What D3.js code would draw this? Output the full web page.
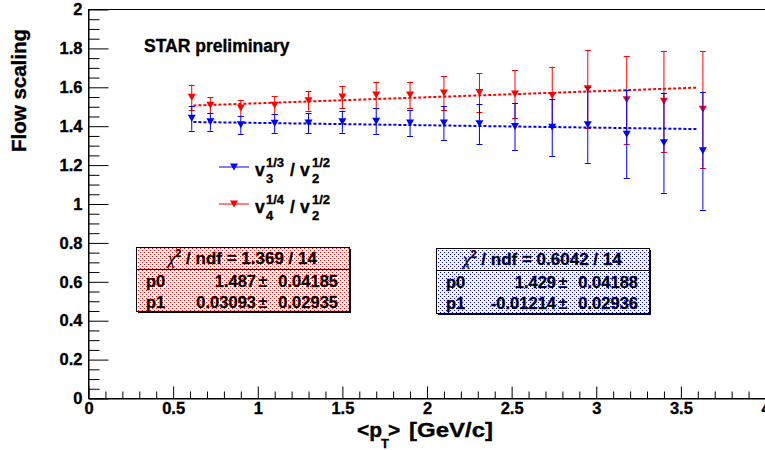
<!DOCTYPE html>
<html><head><meta charset="utf-8">
<script src="https://cdn.jsdelivr.net/npm/d3@7"></script>
<style>
body{margin:0;background:#fff}
svg{display:block}
text{font-family:"Liberation Sans",Arial,Helvetica,sans-serif;font-weight:bold;fill:#000}
.hv{stroke:#000;stroke-width:0.35px}
</style>
</head><body>
<svg id="c" width="765" height="450"></svg>
<script>
// ---- data ----
const pt    = [0.61,0.72,0.90,1.10,1.30,1.50,1.70,1.90,2.10,2.31,2.52,2.74,2.95,3.18,3.40,3.63];
const v3    = [1.441,1.423,1.407,1.415,1.417,1.423,1.426,1.417,1.417,1.412,1.399,1.394,1.407,1.359,1.315,1.274];
const v3err = [0.064,0.046,0.046,0.049,0.051,0.057,0.067,0.067,0.087,0.103,0.121,0.147,0.195,0.225,0.257,0.303];
const v4    = [1.549,1.508,1.493,1.508,1.531,1.550,1.560,1.560,1.571,1.573,1.566,1.558,1.592,1.536,1.528,1.487];
const v4err = [0.064,0.041,0.043,0.046,0.051,0.058,0.068,0.068,0.088,0.101,0.124,0.148,0.200,0.226,0.260,0.300];
const fitV3 = [1.429,-0.01214];
const fitV4 = [1.487, 0.03093];
const fitRange = [0.62, 3.60];
const xTicks = [0,0.5,1,1.5,2,2.5,3,3.5,4];
const yTicks = [0,0.2,0.4,0.6,0.8,1,1.2,1.4,1.6,1.8,2];
const statsV4 = ["1.369 / 14","1.487","0.04185","0.03093","0.02935"];
const statsV3 = ["0.6042 / 14","1.429","0.04188","-0.01214","0.02936"];

// ---- layout ----
const svg = d3.select("#c");
const x = d3.scaleLinear().domain([0,4]).range([88.5,765.5]);
const y = d3.scaleLinear().domain([0,2]).range([398.5,9.5]);
const fmt = d => String(+d.toFixed(2));
const FONT = '"Liberation Sans",Arial,Helvetica,sans-serif';
const RED = "#ff0000", BLUE = "#0000ff";

const defs = svg.append("defs");
function pat(id, col){
  const p = defs.append("pattern").attr("id",id).attr("patternUnits","userSpaceOnUse")
    .attr("width",4).attr("height",4);
  p.append("rect").attr("width",4).attr("height",4).attr("fill","#fff");
  p.append("rect").attr("x",0).attr("y",0).attr("width",1).attr("height",1).attr("fill",col);
  p.append("rect").attr("x",2).attr("y",2).attr("width",1).attr("height",1).attr("fill",col);
}
pat("pr",RED); pat("pb",BLUE);

// frame
svg.append("rect").attr("x",x(0)).attr("y",y(2)).attr("width",x(4)-x(0)).attr("height",y(0)-y(2))
  .attr("fill","none").attr("stroke","#000").attr("stroke-width",1);

// minor ticks
const yMinor = d3.range(0,2.0001,0.05).filter(v=>Math.abs(v/0.2-Math.round(v/0.2))>1e-6);
const xMinor = d3.range(0,4.0001,0.1).filter(v=>Math.abs(v/0.5-Math.round(v/0.5))>1e-6);

function styleAxis(g, size){
  g.attr("font-family",FONT).attr("font-size",size).attr("font-weight","bold");
  g.select(".domain").attr("stroke","#000");
  g.selectAll("line").attr("stroke","#000");
  g.selectAll("text").attr("fill","#000").attr("class","hv");
}
const gy = svg.append("g").attr("transform",`translate(${x(0)},0)`);
gy.call(d3.axisLeft(y).tickValues(yTicks).tickSize(-20).tickSizeOuter(0).tickPadding(6).tickFormat(fmt));
styleAxis(gy,16.5);
const gym = svg.append("g").attr("transform",`translate(${x(0)},0)`);
gym.call(d3.axisLeft(y).tickValues(yMinor).tickSize(-11).tickSizeOuter(0).tickFormat(""));
gym.select(".domain").remove(); gym.selectAll("line").attr("stroke","#000");

const gx = svg.append("g").attr("transform",`translate(0,${y(0)})`);
gx.call(d3.axisBottom(x).tickValues(xTicks).tickSize(-12).tickSizeOuter(0).tickPadding(4).tickFormat(fmt));
styleAxis(gx,16.5);
const gxm = svg.append("g").attr("transform",`translate(0,${y(0)})`);
gxm.call(d3.axisBottom(x).tickValues(xMinor).tickSize(-7).tickSizeOuter(0).tickFormat(""));
gxm.select(".domain").remove(); gxm.selectAll("line").attr("stroke","#000");

// axis titles
svg.append("text").attr("class","hv").attr("transform","translate(26,152) rotate(-90)").attr("font-size",20.5)
  .attr("text-anchor","start").text("Flow scaling");
const xt = svg.append("text").attr("class","hv").attr("x",357).attr("y",437).attr("font-size",21);
xt.append("tspan").text("<p");
xt.append("tspan").attr("font-size",13).attr("dy",10.5).attr("dx",-1).text("T");
xt.append("tspan").attr("dy",-10.5).attr("dx",-1).text(">");
svg.append("text").attr("class","hv").attr("x",409).attr("y",437).attr("font-size",21)
  .attr("textLength",84).attr("lengthAdjust","spacingAndGlyphs").text("[GeV/c]");

// STAR preliminary
svg.append("text").attr("class","hv").attr("x",144).attr("y",51.5).attr("font-size",17.5).text("STAR preliminary");

// ---- series ----
const tri = (cx,cy) => `M${cx-4},${cy-3.5}L${cx+4},${cy-3.5}L${cx},${cy+3.5}Z`;
function series(vals, errs, fit, col){
  const g = svg.append("g");
  const d = pt.map((p,i)=>({p, v:vals[i], e:errs[i]}));
  const fl = d3.line().x(t=>x(t)).y(t=>y(fit[0]+fit[1]*t));
  g.append("path").attr("d",fl(fitRange)).attr("fill","none").attr("stroke",col)
    .attr("stroke-width",2).attr("stroke-dasharray","3,2");
  g.selectAll(".eb").data(d).join("line").attr("x1",a=>x(a.p)).attr("x2",a=>x(a.p))
    .attr("y1",a=>y(a.v+a.e)).attr("y2",a=>y(a.v-a.e)).attr("stroke",col).attr("stroke-width",1);
  g.selectAll(".ct").data(d).join("line").attr("x1",a=>x(a.p)-3).attr("x2",a=>x(a.p)+3)
    .attr("y1",a=>Math.round(y(a.v+a.e))+0.5).attr("y2",a=>Math.round(y(a.v+a.e))+0.5).attr("stroke",col);
  g.selectAll(".cb").data(d).join("line").attr("x1",a=>x(a.p)-3).attr("x2",a=>x(a.p)+3)
    .attr("y1",a=>Math.round(y(a.v-a.e))+0.5).attr("y2",a=>Math.round(y(a.v-a.e))+0.5).attr("stroke",col);
  g.selectAll(".mk").data(d).join("path").attr("d",a=>tri(x(a.p),y(a.v))).attr("fill",col);
}
series(v4, v4err, fitV4, RED);
series(v3, v3err, fitV3, BLUE);

// ---- legend ----
function legendRow(ly, col, n){
  svg.append("line").attr("x1",219).attr("x2",249).attr("y1",ly).attr("y2",ly).attr("stroke",col);
  svg.append("path").attr("d",tri(234,ly)).attr("fill",col);
  const base = ly+8.5;
  const T = (xx,yy,fs,s)=>svg.append("text").attr("class","hv").attr("x",xx).attr("y",yy).attr("font-size",fs).text(s);
  T(255,base,17.5,"v");
  T(266,ly-0.5,13,"1/"+n);
  T(266,ly+15.5,13,n);
  T(290,base,17.5,"/");
  T(300,base,17.5,"v");
  T(312,ly-0.5,13,"1/2");
  T(312,ly+15.5,13,"2");
}
legendRow(167, BLUE, "3");
legendRow(204, RED, "4");

// ---- stats boxes ----
function statsBox(b, s, patId){
  const g = svg.append("g");
  const w = b.x1-b.x0, h = b.y1-b.y0;
  g.append("rect").attr("x",b.x0+2).attr("y",b.y0+2).attr("width",w).attr("height",h).attr("fill","#000");
  g.append("rect").attr("x",b.x0+0.5).attr("y",b.y0+0.5).attr("width",w).attr("height",h)
    .attr("fill",`url(#${patId})`).attr("stroke","#000");
  g.append("line").attr("x1",b.x0).attr("x2",b.x1).attr("y1",b.div+0.5).attr("y2",b.div+0.5).attr("stroke","#000");
  const t = g.append("text").attr("class","hv").attr("x",(b.x0+b.x1)/2).attr("y",b.y0+16.5).attr("font-size",17).attr("text-anchor","middle");
  t.append("tspan").attr("font-family",'"Liberation Serif",serif').attr("font-style","italic").attr("font-weight","normal").text("χ");
  t.append("tspan").attr("font-size",10.5).attr("dy",-7).text("2");
  t.append("tspan").attr("dy",7).text(" / ndf = "+s[0]);
  const rows = [["p0",s[1],s[2]],["p1",s[3],s[4]]];
  rows.forEach((r,i)=>{
    const by = b.div+18+i*21;
    const T = (xx,anchor,str)=>g.append("text").attr("class","hv").attr("x",xx).attr("y",by).attr("font-size",16.5).attr("text-anchor",anchor).text(str);
    T(b.x0+10,"start",r[0]);
    T(b.x0+120,"end",r[1]);
    g.append("text").attr("x",b.x0+127).attr("y",by).attr("font-size",17).attr("font-weight","normal").attr("text-anchor","middle").text("±");
    T(b.x0+202,"end",r[2]);
  });
}
statsBox({x0:136,x1:349,y0:247,y1:311,div:269}, statsV4, "pr");
statsBox({x0:436,x1:649,y0:248,y1:313,div:270}, statsV3, "pb");
</script>
</body></html>
